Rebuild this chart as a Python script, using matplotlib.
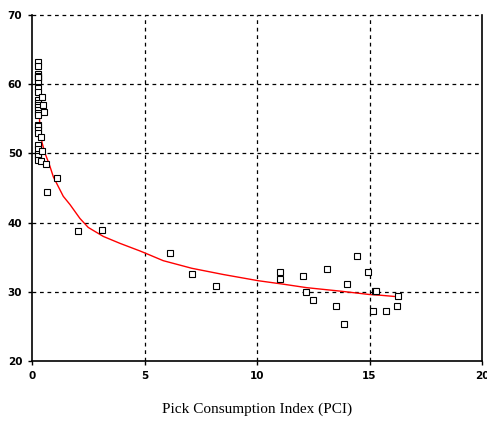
import matplotlib
matplotlib.use('Agg')
import matplotlib.pyplot as plt

# observed points (PCI, value)
pci = [0.25, 0.25, 0.25, 0.25, 0.25, 0.25, 0.25, 0.25, 0.25, 0.25,
       0.25, 0.25, 0.25, 0.25, 0.25, 0.25, 0.25, 0.25, 0.25, 0.25,
       0.25, 0.25, 0.25, 0.25, 0.25, 0.39, 0.39, 0.43, 0.47, 0.53,
       0.46, 0.62, 1.13, 0.68, 2.04, 3.13, 6.13, 7.10, 8.18,
       11.02, 11.02, 12.03, 12.19, 12.49, 13.11, 13.51, 13.88, 14.01,
       14.43, 14.92, 15.16, 15.24, 15.30, 15.75, 16.20, 16.27]
value = [63.2, 62.7, 61.5, 61.2, 60.9, 60.5, 59.4, 58.9, 57.7, 57.3,
         57.0, 56.7, 56.3, 55.9, 55.5, 54.1, 53.9, 53.4, 53.0, 51.2,
         50.6, 49.9, 49.6, 49.0, 61.0, 52.4, 48.9, 58.1, 57.0, 56.0,
         50.4, 48.4, 46.4, 44.4, 38.8, 39.0, 35.6, 32.6, 30.9,
         32.8, 31.9, 32.3, 30.0, 28.8, 33.3, 28.0, 25.35, 31.1,
         35.2, 32.9, 27.2, 30.1, 30.1, 27.2, 27.9, 29.4]

# fitted curve
fit_x = [0.30, 0.36, 0.45, 0.58, 0.77, 0.95, 1.17, 1.39, 1.69, 2.13,
         2.50, 3.17, 3.91, 4.80, 5.10, 5.83, 7.10, 8.50, 10.06, 11.17,
         12.20, 13.69, 15.02, 15.50, 16.20]
fit_y = [57.0, 53.4, 51.5, 50.0, 48.4, 46.6, 45.2, 43.8, 42.6, 40.6,
         39.3, 38.0, 37.0, 35.9, 35.5, 34.5, 33.4, 32.5, 31.6, 31.1,
         30.6, 30.1, 29.6, 29.5, 29.3]

fig = plt.figure(figsize=(4.87, 4.23), dpi=100)
ax = fig.add_axes([32 / 487, 1 - 361 / 423, 450 / 487, 346 / 423])

ax.plot(fit_x, fit_y, color='red', lw=1.0, zorder=2)
ax.plot(pci, value, ls='none', marker='s', ms=4.5, mfc='white',
        mec='black', mew=0.8, zorder=3)

ax.set_xlim(0, 20)
ax.set_ylim(20, 70)
ax.set_xticks([0, 5, 10, 15, 20])
ax.set_yticks([20, 30, 40, 50, 60, 70])

# dashed grid only inside the frame, plus the dashed top edge
dash = dict(color='black', ls=(0, (3, 3)), lw=0.9, zorder=1)
for gx in [5, 10, 15]:
    ax.axvline(gx, **dash)
for gy in [30, 40, 50, 60]:
    ax.axhline(gy, **dash)
ax.axhline(70, color='black', ls=(0, (3, 3)), lw=0.9, clip_on=False)
ax.spines['top'].set_visible(False)
for s in ['left', 'right', 'bottom']:
    ax.spines[s].set_linewidth(1.2)
ax.tick_params(direction='out', length=3, width=1, labelsize=7.5, pad=4)
for lab in ax.get_xticklabels() + ax.get_yticklabels():
    lab.set_fontweight('bold')
ax.set_xlabel('Pick Consumption Index (PCI)', fontfamily='Liberation Serif',
              fontsize=11, labelpad=16)

fig.savefig('out.png', dpi=100)
